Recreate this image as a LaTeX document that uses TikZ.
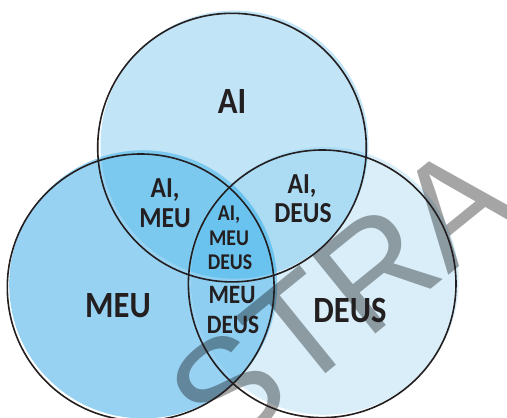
\documentclass[tikz,border=0pt]{standalone}
\usepackage{fontspec}
\setmainfont{Carlito}
\newfontfamily\labfont[FakeStretch=0.88,UprightFont={* Bold}]{Carlito}
\newfontfamily\wmfont{Liberation Sans}
\definecolor{cTop}{HTML}{C1E4F6}
\definecolor{cLeft}{HTML}{98D2F3}
\definecolor{cRight}{HTML}{D9EEF9}
\definecolor{cTL}{HTML}{7CC9F0}
\definecolor{cTR}{HTML}{ABDCF4}
\definecolor{cLR}{HTML}{8DCEF1}
\definecolor{cAll}{HTML}{6AC3EE}
\definecolor{wmgray}{HTML}{A5A5A5}
\definecolor{ink}{HTML}{231F20}
\begin{document}
\begin{tikzpicture}[x=1pt,y=-1pt,
  outline/.style={draw=ink,line width=1.6pt},
  lab/.style={inner sep=0pt,anchor=base,text=ink},
  big/.style={lab,font=\labfont\fontsize{37}{37}\selectfont},
  mid/.style={lab,font=\labfont\fontsize{29}{29}\selectfont},
  sml/.style={lab,font=\labfont\fontsize{22.5}{22.5}\selectfont},
  low/.style={lab,font=\labfont\fontsize{26.5}{26.5}\selectfont},
  wmark/.style={inner sep=0pt,text=wmgray,font=\wmfont\fontsize{146}{146}\selectfont}]
\useasboundingbox (0,0) rectangle (507,418);
% circle centres
\coordinate (T) at (232,147.6);
\coordinate (L) at (140.7,287.4);
\coordinate (R) at (322.2,283.8);
% slightly offset fills
\coordinate (Tf) at (234.5,144.6);
\coordinate (Lf) at (143.2,284.4);
\coordinate (Rf) at (324.7,280.8);
\def\rad{134}
\fill[cTop] (Tf) circle[radius=\rad];
\fill[cLeft] (Lf) circle[radius=\rad];
\fill[cRight] (Rf) circle[radius=\rad];
\begin{scope}
  \clip (Tf) circle[radius=\rad];
  \fill[cTL] (Lf) circle[radius=\rad];
  \fill[cTR] (Rf) circle[radius=\rad];
\end{scope}
\begin{scope}
  \clip (Lf) circle[radius=\rad];
  \fill[cLR] (Rf) circle[radius=\rad];
\end{scope}
\begin{scope}
  \clip (Tf) circle[radius=\rad];
  \clip (Lf) circle[radius=\rad];
  \fill[cAll] (Rf) circle[radius=\rad];
\end{scope}
% watermark
\begin{scope}[blend mode=multiply]
  \node[wmark,rotate=39,anchor=base east] (wm) at (524,214) {STRA};
\end{scope}
% outlines
\draw[outline] (T) circle[radius=134.3];
\draw[outline] (L) circle[radius=133.4];
\draw[outline] (R) circle[radius=133.8];
% labels
\node[big] (ai) at (232,113) {AI};
\node[big] (meu) at (118,317) {MEU};
\node[big] (deus) at (350,322) {DEUS};
\node[mid] (tl1) at (165,197) {AI,};
\node[mid] (tl2) at (165,227) {MEU};
\node[mid] (tr1) at (302,193) {AI,};
\node[mid] (tr2) at (303,222) {DEUS};
\node[sml] (c1) at (229,220) {AI,};
\node[sml] (c2) at (229,245) {MEU};
\node[sml] (c3) at (230,269) {DEUS};
\node[low] (lr1) at (232,303) {MEU};
\node[low] (lr2) at (233,333) {DEUS};
\end{tikzpicture}
\end{document}
